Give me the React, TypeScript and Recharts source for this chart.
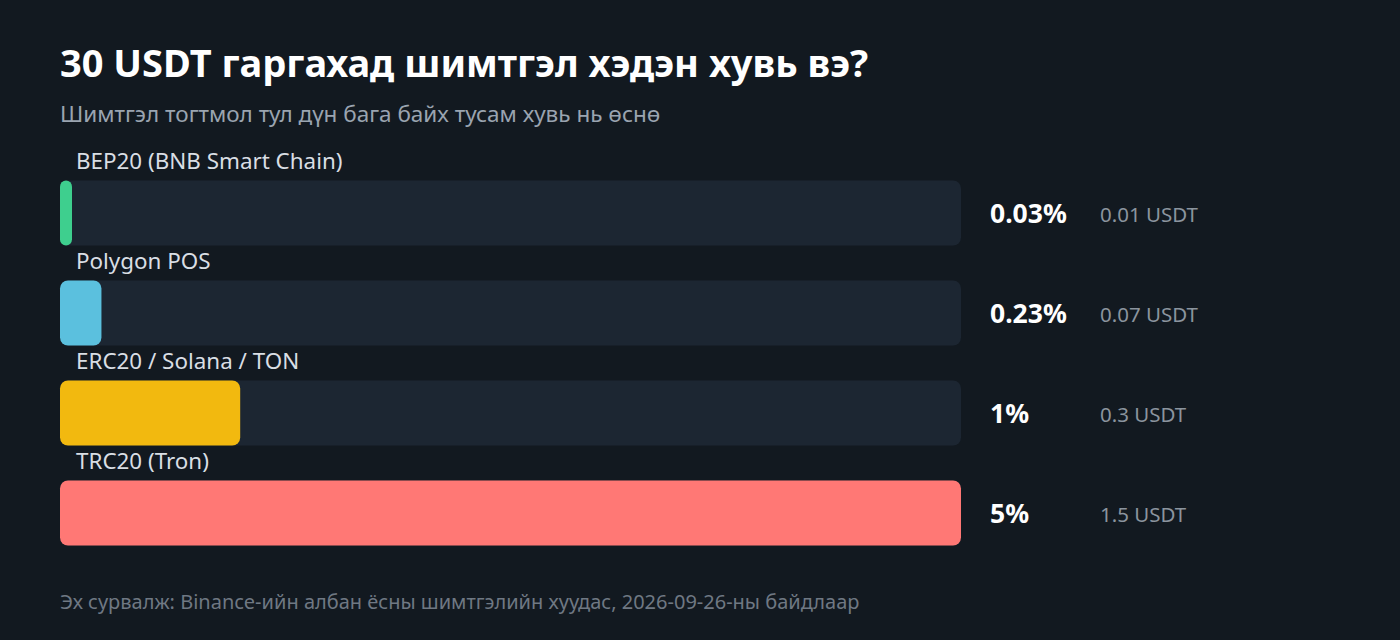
import { BarChart, Bar, XAxis, YAxis, LabelList } from "recharts";

const networks = ["BEP20 (BNB Smart Chain)", "Polygon POS", "ERC20 / Solana / TON", "TRC20 (Tron)"];
const feePercent = [0.03, 0.23, 1, 5];
const pctLabels = ["0.03%", "0.23%", "1%", "5%"];
const feeUsdt = ["0.01 USDT", "0.07 USDT", "0.3 USDT", "1.5 USDT"];
const colors = ["#3ecf8e", "#5bc0de", "#f2b90f", "#ff7875"];

const data = networks.map((name, i) => ({
  name,
  pct: feePercent[i],
  usdt: feeUsdt[i],
  color: colors[i],
}));

const FONT = '"Noto Sans", "Open Sans", sans-serif';
const BG = "#121920";

// tiny values still get a visible pill
function RoundedBar(props: any) {
  const { x, y, width, height, payload } = props;
  const w = Math.max(width, 12);
  const r = Math.min(8, w / 2);
  return <rect x={x} y={y} width={w} height={height} rx={r} ry={r} fill={payload.color} />;
}

function NameLabel(props: any) {
  const { x, y, value } = props;
  return (
    <text x={x + 16} y={y - 12} fill="#d9dee4" fontSize={22.4} fontFamily={FONT}>
      {value}
    </text>
  );
}

function SideLabel(props: any) {
  const { y, height, index } = props;
  const cy = y + height / 2;
  return (
    <g fontFamily={FONT}>
      <text x={990} y={cy + 9.5} fill="#ffffff" fontSize={26.5} fontWeight={700}>
        {pctLabels[index]}
      </text>
      <text x={1100} y={cy + 9} fill="#8b949e" fontSize={20.5}>
        {feeUsdt[index]}
      </text>
    </g>
  );
}

export default function App() {
  return (
    <div style={{ position: "fixed", left: 0, top: 0, width: 1400, height: 640, background: BG, fontFamily: FONT }}>
      <div style={{ position: "absolute", left: 60, top: 38, color: "#ffffff", fontSize: 38, fontWeight: 700, lineHeight: "48px", whiteSpace: "nowrap" }}>
        30 USDT гаргахад шимтгэл хэдэн хувь вэ?
      </div>
      <div style={{ position: "absolute", left: 60, top: 99, color: "#9aa4b0", fontSize: 22.5, lineHeight: "30px", whiteSpace: "nowrap" }}>
        Шимтгэл тогтмол тул дүн бага байх тусам хувь нь өснө
      </div>
      <div style={{ position: "absolute", left: 0, top: 0 }}>
        <BarChart
          width={1400}
          height={640}
          data={data}
          layout="vertical"
          margin={{ top: 162.5, right: 439, bottom: 77.5, left: 60 }}
        >
          <XAxis type="number" domain={[0, 5]} hide />
          <YAxis type="category" dataKey="name" hide width={0} />
          <Bar
            dataKey="pct"
            barSize={65}
            isAnimationActive={false}
            background={{ fill: "#1c2632", radius: 8 }}
            shape={RoundedBar}
          >
            <LabelList dataKey="name" content={NameLabel} />
            <LabelList dataKey="usdt" content={SideLabel} />
          </Bar>
        </BarChart>
      </div>
      <div style={{ position: "absolute", left: 60, top: 589, color: "#6f7883", fontSize: 20, lineHeight: "26px", whiteSpace: "nowrap" }}>
        Эх сурвалж: Binance-ийн албан ёсны шимтгэлийн хуудас, 2026-09-26-ны байдлаар
      </div>
    </div>
  );
}
